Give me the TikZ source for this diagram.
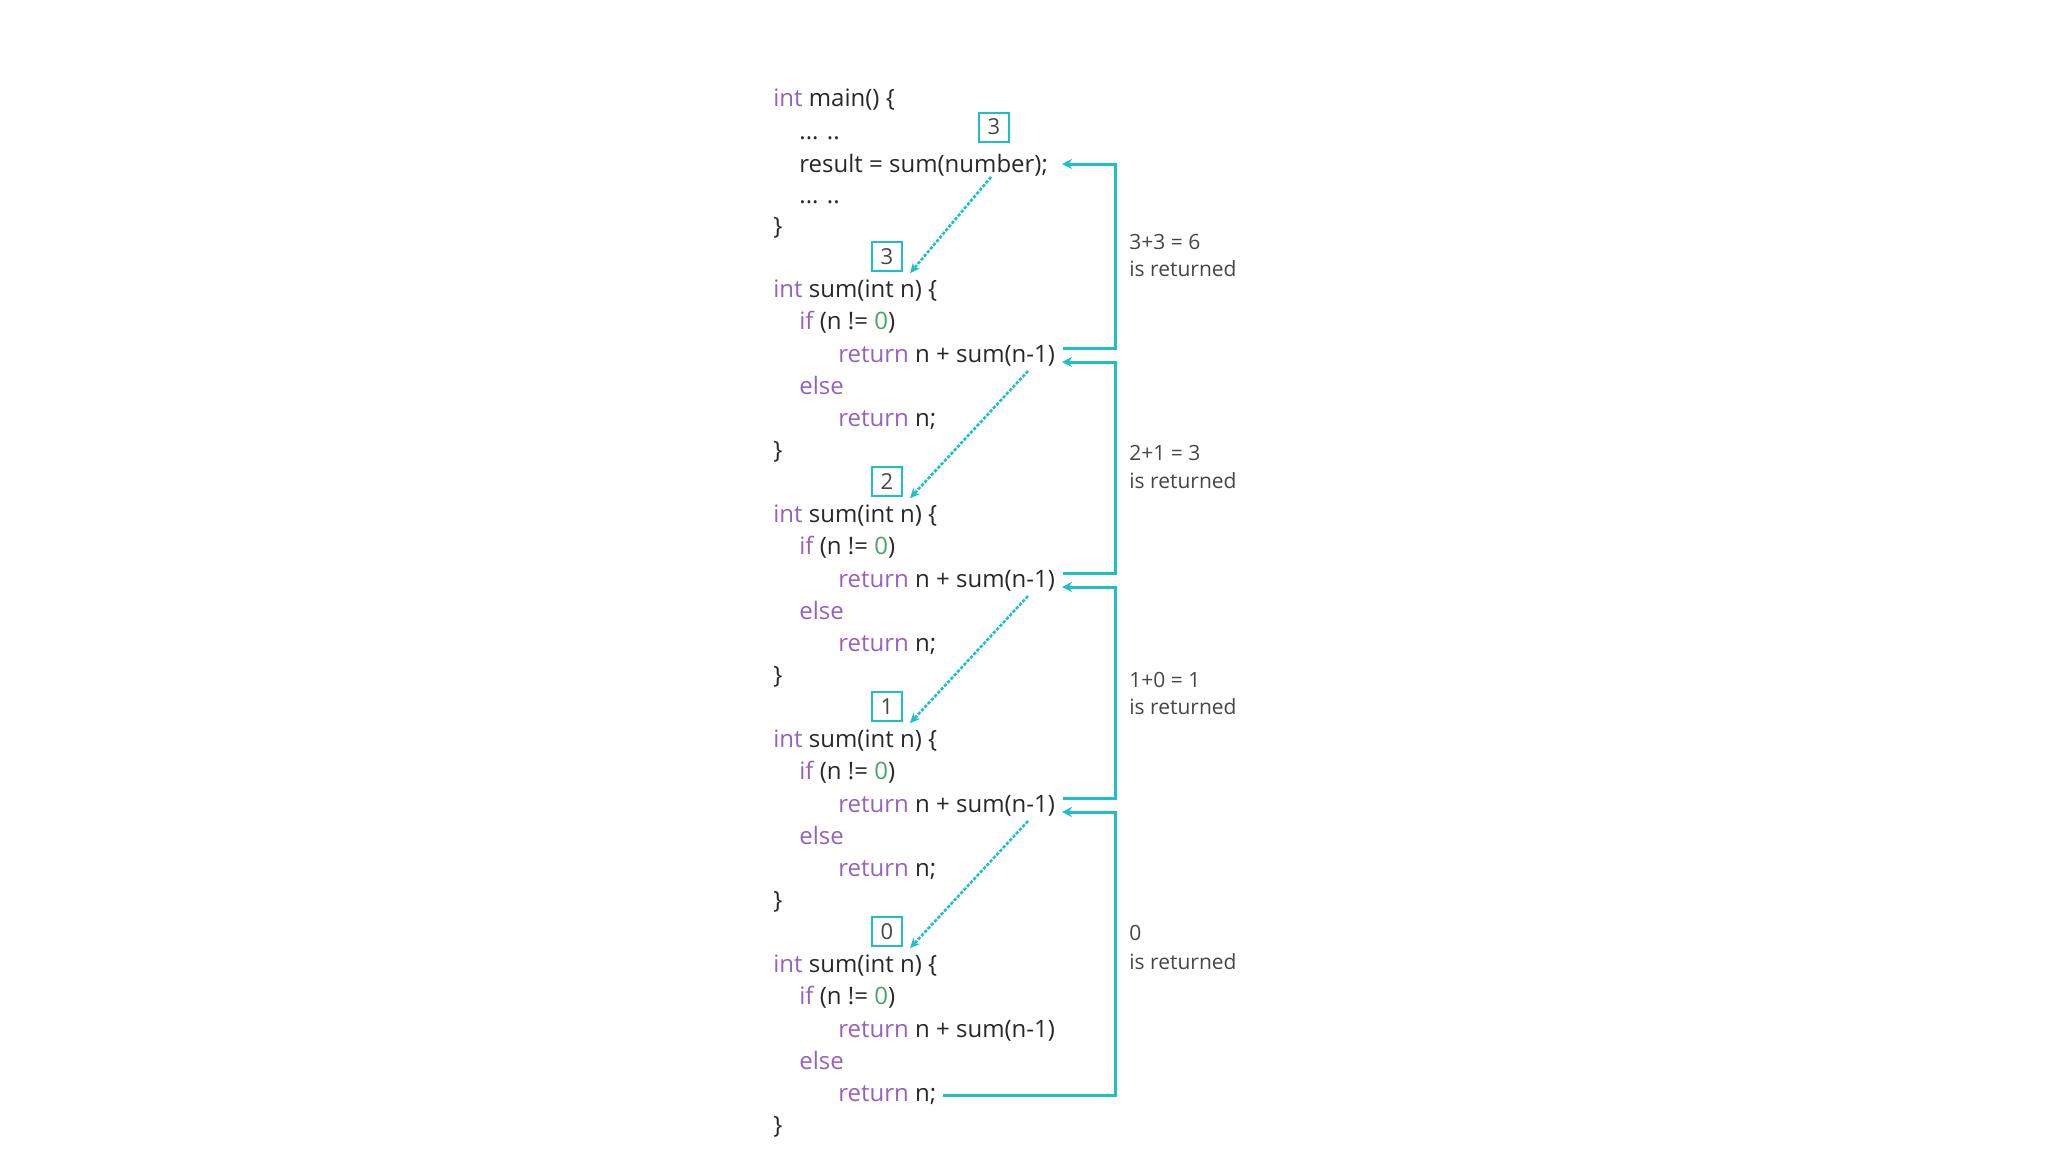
\documentclass[tikz,border=0pt]{standalone}
\usepackage{fontspec}
\setmainfont{Open Sans}
\usetikzlibrary{arrows.meta,calc}
\definecolor{kwc}{RGB}{150,98,190}
\definecolor{numc}{RGB}{70,165,110}
\definecolor{txtc}{RGB}{40,40,40}
\definecolor{lblc}{RGB}{70,70,70}
\definecolor{tealc}{RGB}{30,192,196}
\newcommand\KW[1]{\textcolor{kwc}{#1}}
\newcommand\NUMZ[1]{\textcolor{numc}{#1}}
\begin{document}
\begin{tikzpicture}[x=0.5pt,y=-0.5pt,
  code/.style={anchor=base west,inner sep=0pt,text=txtc,font=\fontsize{12}{14}\selectfont},
  lbl/.style={anchor=base west,inner sep=0pt,text=lblc,font=\fontsize{10.5}{12}\selectfont},
  numbox/.style={draw=tealc,line width=1pt,minimum width=15pt,minimum height=14.5pt,inner sep=0pt,text=lblc,font=\fontsize{11}{12}\selectfont},
  call/.style={draw=tealc,line width=1.3pt,dash pattern=on 1.6pt off 0.8pt,-{Stealth[length=5pt,width=4.5pt]}},
  ret/.style={draw=tealc,line width=1.5pt},
  retarrow/.style={ret,-{Stealth[length=5pt,width=5pt]}}]
\useasboundingbox (0,0) rectangle (2048,1152);
% main
\node[code] (main) at (773,106) {\KW{int} main() \{};
\node[code] (dotsa) at (799,{107+32.14}) {... ..};
\node[code] (result) at (799,{108+32.14*2}) {result = sum(number);};
\node[code] (dotsb) at (799,{107+32.14*3}) {... ..};
\node[code] (mainend) at (773,{106+32.14*4}) {\}};
\node[numbox] (mbox) at (994,127) {3};
% sum blocks
\foreach \k/\m in {0/3,1/2,2/1,3/0}{
  \pgfmathsetmacro\b{6+7*\k}
  \node[numbox] (box\k) at (887,{96+32.14*(\b-1)}) {\m};
  \node[code] (sum\k) at (773,{105+32.14*\b}) {\KW{int} sum(int n) \{};
  \node[code] (if\k) at (799,{105+32.14*(\b+1)}) {\KW{if} (n != \NUMZ{0})};
  \node[code] (ret\k) at (838,{105+32.14*(\b+2)}) {\KW{return} n + sum(n-1)};
  \node[code] (else\k) at (799,{105+32.14*(\b+3)}) {\KW{else}};
  \node[code] (retn\k) at (838,{105+32.14*(\b+4)}) {\KW{return} n;};
  \node[code] (end\k) at (773,{105+32.14*(\b+5)}) {\}};
}
% call arrows
\coordinate (cm) at (991,177);
\draw[call] (cm) -- ($(box0.south east)+(7,1)$);
\foreach \k in {0,1,2}{
  \pgfmathtruncatemacro\n{\k+1}
  \coordinate (c\k) at (1028,{371+225*\k});
  \draw[call] (c\k) -- ($(box\n.south east)+(7,1)$);
}
% return brackets
\coordinate (inm) at (1062,164);
\foreach \k in {0,1,2}{
  \coordinate (out\k) at (1063,{348+225*\k});
  \coordinate (in\k) at (1062,{362+225*\k});
}
\coordinate (out3) at (943,1095);
\draw[retarrow] (out0) -- (1115,348) |- (inm);
\draw[retarrow] (out1) -- (1115,573) |- (in0);
\draw[retarrow] (out2) -- (1115,798) |- (in1);
\draw[retarrow] (out3) -- (1115,1095) |- (in2);
% labels
\node[lbl] (la0) at (1129,249) {3+3 = 6};
\node[lbl] (lb0) at (1129,276) {is returned};
\node[lbl] (la1) at (1129,460) {2+1 = 3};
\node[lbl] (lb1) at (1129,488) {is returned};
\node[lbl] (la2) at (1129,687) {1+0 = 1};
\node[lbl] (lb2) at (1129,714) {is returned};
\node[lbl] (la3) at (1129,940) {0};
\node[lbl] (lb3) at (1129,969) {is returned};
\end{tikzpicture}
\end{document}
